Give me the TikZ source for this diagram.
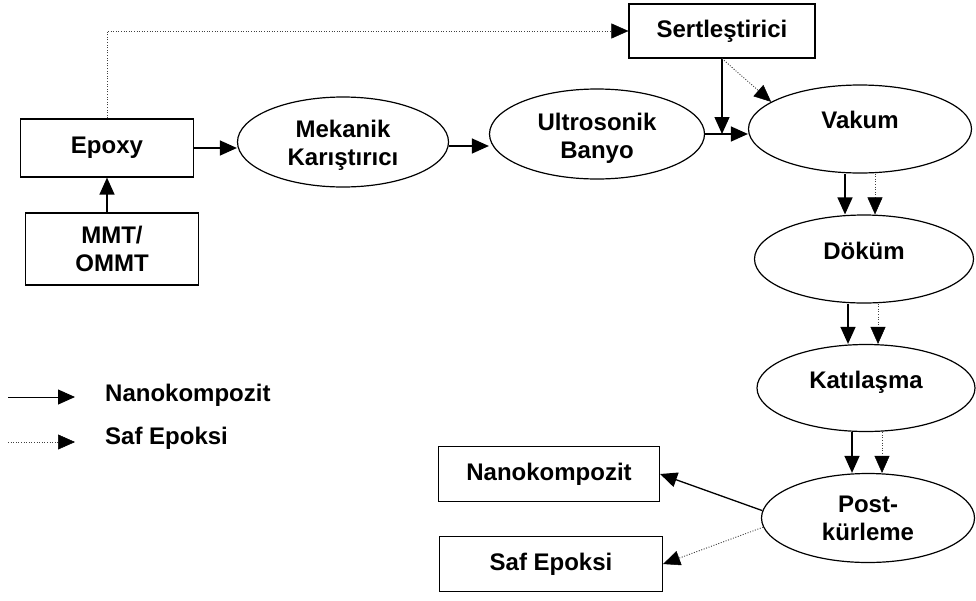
\documentclass[tikz,border=0pt]{standalone}
\usepackage{fontspec}
\setmainfont{Liberation Sans}
\usetikzlibrary{shapes.geometric,arrows.meta,calc}
\tikzset{
  base/.style={draw=black,line width=1.2pt,font=\fontsize{24}{28}\selectfont\bfseries,align=center,inner sep=0pt},
  boxnode/.style={base,rectangle},
  ellnode/.style={base,ellipse},
  nk/.style={line width=1.3pt,-{Triangle[length=17pt,width=15pt]}},
  se/.style={line width=0.9pt,black!75,dash pattern=on 1pt off 1.6pt,-{Triangle[length=17pt,width=15pt,color=black,fill=black,line width=0.5pt]}},
  legtext/.style={font=\fontsize{24}{28}\selectfont\bfseries,anchor=west,inner sep=0pt}
}
\newcommand{\upby}[2]{\raisebox{#1}[\height][\depth]{#2}}
\begin{document}
\begin{tikzpicture}[x=1pt,y=-1pt]
\useasboundingbox (0,0) rectangle (976,600);
\node[boxnode,minimum width=173pt,minimum height=58pt] (epoxy) at (107,148) {Epoxy};
\node[boxnode,minimum width=173pt,minimum height=72pt] (mmt) at (112,249) {MMT/\\OMMT};
\node[ellnode,minimum width=211pt,minimum height=90pt] (mek) at (343,142) {\vphantom{X}\\[-20pt]Mekanik\\Karıştırıcı};
\node[ellnode,minimum width=215pt,minimum height=90pt] (ult) at (597,134) {\vphantom{X}\\[-18pt]Ultrosonik\\Banyo};
\node[boxnode,minimum width=186pt,minimum height=54pt] (sert) at (722,31) {Sertleştirici};
\node[ellnode,minimum width=223pt,minimum height=88pt] (vak) at (860,129) {\upby{9pt}{Vakum}};
\node[ellnode,minimum width=219pt,minimum height=88pt] (dok) at (864,259) {\upby{8pt}{Döküm}};
\node[ellnode,minimum width=218pt,minimum height=87pt] (kat) at (866,388) {\upby{6pt}{Katılaşma}};
\node[ellnode,minimum width=213pt,minimum height=89pt] (post) at (868,518) {Post-\\kürleme};
\node[boxnode,minimum width=221pt,minimum height=55pt] (nano) at (549,474) {Nanokompozit};
\node[boxnode,minimum width=223pt,minimum height=55pt] (saf) at (551,564) {Saf Epoksi};

% main flow
\draw[nk] (epoxy.east) -- (epoxy.east -| mek.west);
\draw[nk] ([yshift=-4pt]mek.east) -- ([yshift=-4pt]mek.east -| ult.west);
\draw[nk] (ult.east) -- (ult.east -| vak.west);
\draw[nk] (epoxy.south |- mmt.north) -- (epoxy.south);
\draw[se] (epoxy.north) |- (sert.west);
\draw[nk] (sert.south) -- (sert.south |- ult.east);
\draw[se] (sert.south) -- (vak.163);
\draw[nk] ([xshift=-15pt]vak.south) -- ([xshift=-15pt]vak.south |- dok.north);
\draw[se] ([xshift=15pt]vak.south) -- ([xshift=15pt]vak.south |- dok.north);
\draw[nk] ([xshift=-16pt]dok.south) -- ([xshift=-16pt]dok.south |- kat.north);
\draw[se] ([xshift=14pt]dok.south) -- ([xshift=14pt]dok.south |- kat.north);
\draw[nk] ([xshift=-14pt]kat.south) -- ([xshift=-14pt]kat.south |- post.north);
\draw[se] ([xshift=16pt]kat.south) -- ([xshift=16pt]kat.south |- post.north);
\draw[nk] (post.176) -- (nano.east);
\draw[se] (post.185) -- (saf.east);

% legend
\coordinate (l1a) at (8,397);
\coordinate (l1b) at (75,397);
\coordinate (l2a) at (8,442);
\coordinate (l2b) at (75,442);
\draw[nk,line width=0.9pt] (l1a) -- (l1b);
\draw[se] (l2a) -- (l2b);
\node[legtext] (lt1) at (105,395) {Nanokompozit};
\node[legtext] (lt2) at (105,438) {Saf Epoksi};
\end{tikzpicture}
\end{document}
